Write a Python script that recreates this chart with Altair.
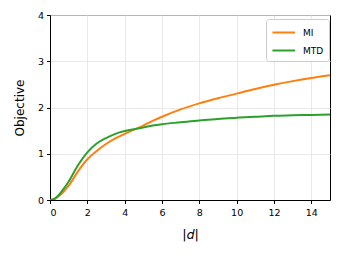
import altair as alt
import pandas as pd

d_vals = [0, 0.25, 0.5, 0.75, 1, 1.5, 2, 2.5, 3, 3.5, 4, 4.5, 5, 5.5, 6, 7, 8, 9, 10, 11, 12, 13, 14, 15]
mi_vals = [0, 0.02, 0.09, 0.19, 0.31, 0.62, 0.88, 1.06, 1.21, 1.33, 1.43, 1.52, 1.61, 1.71, 1.80, 1.96, 2.09, 2.20, 2.30, 2.40, 2.49, 2.57, 2.64, 2.70]
mtd_vals = [0, 0.03, 0.12, 0.25, 0.40, 0.75, 1.03, 1.22, 1.34, 1.43, 1.49, 1.53, 1.57, 1.61, 1.64, 1.68, 1.72, 1.75, 1.78, 1.80, 1.82, 1.83, 1.84, 1.85]
series = ["MI", "MTD"]
colors = ["#ff7f0e", "#2ca02c"]

rows = []
for name, vals in zip(series, [mi_vals, mtd_vals]):
    for x, y in zip(d_vals, vals):
        rows.append({"d": x, "Objective": y, "series": name})
df = pd.DataFrame(rows)

font = "DejaVu Sans"

chart = alt.Chart(df).mark_line(strokeWidth=2, interpolate="monotone", clip=True).encode(
    x=alt.X("d:Q", scale=alt.Scale(domain=[0, 15], nice=False, zero=True),
            axis=alt.Axis(title="|𝑑|", values=[0, 2, 4, 6, 8, 10, 12, 14],
                          titleFontSize=13, titlePadding=11, labelPadding=4)),
    y=alt.Y("Objective:Q", scale=alt.Scale(domain=[0, 4], nice=False),
            axis=alt.Axis(title="Objective", values=[0, 1, 2, 3, 4], titlePadding=11)),
    color=alt.Color("series:N", scale=alt.Scale(domain=series, range=colors),
                    legend=alt.Legend(title=None, orient="none", legendX=216, legendY=4,
                                      symbolType="M-1,0H2.2", symbolStrokeWidth=2, symbolSize=200,
                                      symbolFillColor="transparent",
                                      labelFontSize=9, labelFont=font, padding=5,
                                      strokeColor="#cccccc", fillColor="white",
                                      cornerRadius=3, rowPadding=4, labelOffset=15)),
).properties(
    width=280, height=185,
    autosize=alt.AutoSizeParams(type="none"),
    padding={"left": 42, "top": 7, "right": 4, "bottom": 50},
).configure_view(
    stroke="black", strokeWidth=1
).configure_axis(
    domainColor="black", domainWidth=1, tickColor="black", tickSize=3.5,
    labelFont=font, labelFontSize=9.5, labelColor="black", labelPadding=3,
    titleFont=font, titleFontSize=12, titleFontWeight="normal", titleColor="black",
    gridColor="#e3e3e3", gridWidth=0.8,
)

chart.save("out.html", embed_options={"renderer": "svg", "actions": False})
